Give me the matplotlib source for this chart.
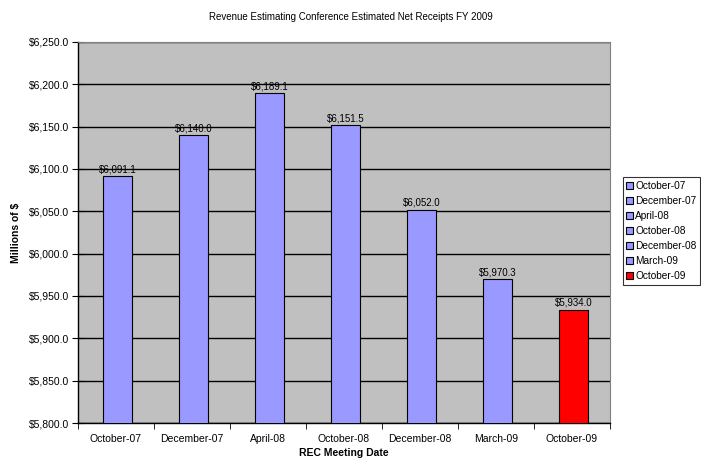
import matplotlib.pyplot as plt
import numpy as np

plt.rcParams['font.family'] = ['Liberation Sans', 'DejaVu Sans']

meetings = ["October-07", "December-07", "April-08", "October-08",
            "December-08", "March-09", "October-09"]
receipts = [6091.1, 6140.0, 6189.1, 6151.5, 6052.0, 5970.3, 5934.0]
colors = ["#9999ff"] * 6 + ["#ff0000"]

fig = plt.figure(figsize=(7.01, 4.62), dpi=100)
ax = fig.add_axes([0.111, 0.0844, 0.759, 0.825])
ax.set_facecolor("#c0c0c0")

x = np.arange(len(meetings))
bars = ax.bar(x + 0.02, receipts, width=0.38, color=colors, edgecolor="black",
              linewidth=0.8, zorder=3, label=meetings)
for xi, v in zip(x, receipts):
    ax.text(xi + 0.02, v + 2, f"${v:,.1f}", ha="center", va="bottom",
            fontsize=7, zorder=4)

ax.set_xlim(-0.5, len(meetings) - 0.5)
ax.set_ylim(5800, 6250)
ax.set_yticks(np.arange(5800, 6251, 50))
ax.yaxis.set_major_formatter(plt.FuncFormatter(lambda v, p: f"${v:,.1f}"))
ax.yaxis.grid(True, color="black", linewidth=1.0, zorder=1)
ax.tick_params(axis="y", direction="inout", length=8, labelsize=7.5, pad=2)

# category labels in the middle, tick marks on the boundaries
ax.set_xticks(x)
ax.set_xticklabels(meetings, fontsize=7.5)
ax.tick_params(axis="x", length=0, pad=8)
ax.set_xticks(np.arange(-0.5, len(meetings)), minor=True)
ax.tick_params(axis="x", which="minor", length=4, direction="out")

for side in ["top", "right"]:
    ax.spines[side].set_color("#808080")
ax.spines["left"].set_linewidth(1.0)
ax.spines["bottom"].set_linewidth(1.0)

ax.set_xlabel("REC Meeting Date", fontsize=7.5, fontweight="bold", labelpad=3)
ax.set_ylabel("Millions of $", fontsize=7.5, fontweight="bold", labelpad=6)
fig.suptitle("Revenue Estimating Conference Estimated Net Receipts FY 2009",
             fontsize=7, y=0.975)

leg = ax.legend(handles=list(bars), labels=meetings, loc="upper left",
                bbox_to_anchor=(1.024, 0.645), fontsize=7.3, frameon=True,
                fancybox=False, edgecolor="black", handlelength=0.7,
                handleheight=0.7, handletextpad=0.2, labelspacing=0.5,
                borderpad=0.35, borderaxespad=0)
leg.get_frame().set_linewidth(0.8)

fig.savefig("out.png", dpi=100)
